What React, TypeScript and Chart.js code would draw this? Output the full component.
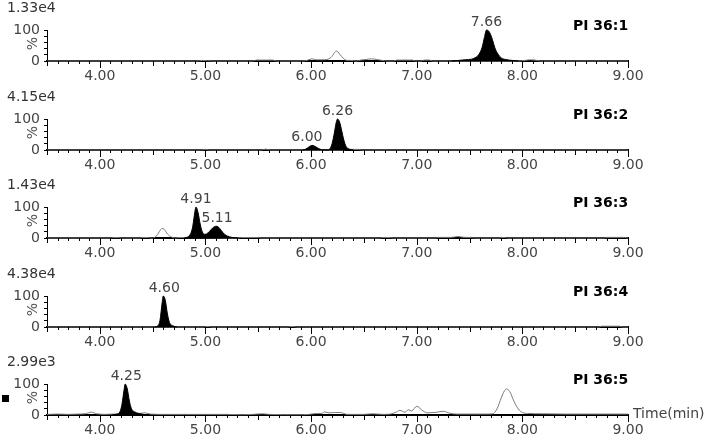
import React, { useEffect, useRef } from 'react';
import { Chart, registerables } from 'chart.js';

Chart.register(...registerables);

type Pt = [number, number];

// ---------- data ----------
const X_MIN = 3.5;
const X_MAX = 9.0;
const majorTimes = [4, 5, 6, 7, 8, 9];
const panelNames = ['PI 36:1', 'PI 36:2', 'PI 36:3', 'PI 36:4', 'PI 36:5'];
const maxIntensityLabels = ['1.33e4', '4.15e4', '1.43e4', '4.38e4', '2.99e3'];

// outline traces (time, % intensity)
const trace1: Pt[] = [
  [3.5, 0], [4.92, 0], [4.97, 2], [5.02, 1], [5.07, 0], [5.45, 0], [5.48, 3], [5.64, 3], [5.67, 0],
  [5.92, 0], [5.97, 3], [6.01, 7], [6.05, 4], [6.1, 4], [6.15, 5], [6.19, 12], [6.24, 32], [6.29, 14],
  [6.34, 2], [6.37, 2], [6.4, 1], [6.43, 0], [6.47, 3], [6.52, 5], [6.57, 7], [6.62, 5], [6.67, 2],
  [6.72, 0], [6.78, 0], [6.81, 3], [6.96, 3], [6.99, 0], [7.04, 0], [7.07, 3], [7.12, 3], [7.15, 0],
  [7.35, 0], [7.95, 0], [8.03, 2], [8.07, 4], [8.12, 3], [8.17, 0], [8.2, 0], [9.0, 0],
];
const trace2: Pt[] = [
  [3.5, 0], [4.95, 0], [5.0, 1.5], [5.05, 0], [5.53, 0], [5.57, 3], [5.61, 0], [6.3, 0],
  [6.34, 2], [6.45, 2], [6.48, 0], [9.0, 0],
];
const trace3: Pt[] = [
  [3.5, 0], [4.1, 0], [4.12, 1.5], [4.18, 1.5], [4.2, 0], [4.38, 0], [4.4, 1.5], [4.46, 1.5], [4.48, 0],
  [4.5, 0], [4.54, 8], [4.57, 24], [4.59, 31], [4.61, 28], [4.64, 13], [4.68, 3], [4.72, 0],
  [4.74, 1.5], [4.8, 1.5], [5.3, 0], [5.33, 1.5], [5.5, 1.5], [5.53, 0], [6.65, 0], [6.68, 1.5],
  [6.75, 1.5], [6.78, 0], [7.18, 0], [7.2, 2], [7.33, 2], [7.39, 5], [7.45, 2], [7.52, 2], [7.54, 0],
  [7.78, 0], [7.8, 1.5], [7.84, 1.5], [7.86, 0], [8.78, 0], [8.8, 2], [8.97, 2], [9.0, 0],
];
const trace4: Pt[] = [
  [3.5, 0], [4.98, 0], [5.0, 1.5], [5.04, 1.5], [5.06, 0], [5.78, 0], [5.8, 1.5], [5.84, 1.5],
  [5.86, 0], [8.72, 0], [8.75, 2.5], [8.92, 2.5], [8.95, 0], [9.0, 0],
];
const trace5: Pt[] = [
  [3.5, 2], [3.6, 3], [3.7, 2], [3.8, 3], [3.86, 4], [3.92, 9], [3.97, 4], [4.05, 2], [4.12, 3],
  [4.2, 3], [4.35, 4], [4.43, 7], [4.48, 3], [4.6, 2], [4.8, 2], [5.0, 2], [5.2, 2], [5.35, 1],
  [5.45, 2], [5.54, 4], [5.6, 2], [5.88, 1], [5.98, 2], [6.05, 5], [6.1, 5], [6.13, 10], [6.17, 7],
  [6.22, 8], [6.28, 8], [6.34, 2], [6.5, 2], [6.58, 4], [6.68, 2], [6.75, 3], [6.81, 10], [6.84, 15],
  [6.89, 9], [6.92, 17], [6.95, 13], [7.0, 28], [7.06, 13], [7.1, 7], [7.19, 9], [7.25, 12],
  [7.31, 6], [7.38, 3], [7.5, 3], [7.65, 3], [7.72, 4], [7.76, 20], [7.8, 55], [7.83, 78],
  [7.85, 84], [7.88, 76], [7.92, 45], [7.96, 20], [8.0, 8], [8.05, 5], [8.2, 4], [8.4, 3],
  [8.6, 3], [8.8, 3], [9.0, 3],
];

// filled (integrated) peaks
const peak1: Pt[] = [
  [7.33, 0], [7.4, 2], [7.46, 4], [7.52, 6], [7.56, 12], [7.59, 22], [7.62, 45], [7.64, 75],
  [7.66, 100], [7.68, 97], [7.7, 85], [7.72, 65], [7.74, 42], [7.77, 22], [7.8, 10], [7.84, 5],
  [7.9, 2], [7.96, 0],
];
const peak2: Pt[] = [
  [5.92, 0], [5.95, 3], [5.98, 10], [6.01, 15], [6.04, 11], [6.07, 5], [6.1, 1], [6.14, 0],
  [6.16, 0], [6.18, 5], [6.2, 22], [6.22, 55], [6.24, 92], [6.25, 100], [6.27, 90], [6.29, 62],
  [6.31, 32], [6.33, 12], [6.36, 3], [6.4, 0],
];
const peak3: Pt[] = [
  [4.8, 0], [4.83, 3], [4.86, 14], [4.88, 38], [4.9, 85], [4.91, 100], [4.93, 82], [4.95, 45],
  [4.97, 20], [4.99, 12], [5.01, 13], [5.04, 22], [5.07, 33], [5.1, 38], [5.12, 36], [5.15, 24],
  [5.18, 12], [5.21, 6], [5.25, 2], [5.3, 0],
];
const peak4: Pt[] = [
  [4.52, 0], [4.55, 4], [4.57, 22], [4.59, 78], [4.6, 100], [4.62, 86], [4.64, 42], [4.66, 14],
  [4.69, 4], [4.73, 0],
];
const peak5: Pt[] = [
  [4.12, 0], [4.16, 3], [4.19, 10], [4.21, 35], [4.23, 82], [4.24, 100], [4.26, 84], [4.28, 45],
  [4.3, 20], [4.33, 10], [4.37, 5], [4.41, 2], [4.44, 0],
];

// peak labels: [time position, peak height %, text]
const labels1: [number, number, string][] = [[7.66, 100, '7.66']];
const labels2: [number, number, string][] = [[5.96, 15, '6.00'], [6.25, 100, '6.26']];
const labels3: [number, number, string][] = [[4.91, 100, '4.91'], [5.11, 38, '5.11']];
const labels4: [number, number, string][] = [[4.61, 100, '4.60']];
const labels5: [number, number, string][] = [[4.25, 100, '4.25']];

const traces = [trace1, trace2, trace3, trace4, trace5];
const peaks = [peak1, peak2, peak3, peak4, peak5];
const peakLabels = [labels1, labels2, labels3, labels4, labels5];

// ---------- layout ----------
const FONT = '"DejaVu Sans", Verdana, sans-serif';
const W = 710;
const PANEL_H = 89;
const panelTops = [0, 89, 177, 266, 354];

function makeOverlay(i: number) {
  return {
    id: 'overlay' + i,
    afterDraw(chart: any) {
      const ctx = chart.ctx as CanvasRenderingContext2D;
      const xs = chart.scales.x;
      const ys = chart.scales.y;
      const area = chart.chartArea;
      const axisY = area.bottom;
      ctx.save();
      // x ticks (minor / half / major)
      ctx.strokeStyle = '#000';
      ctx.lineWidth = 1;
      const n = Math.round((X_MAX - X_MIN) * 10);
      for (let k = 0; k <= n; k++) {
        const v = X_MIN + k / 10;
        const px = Math.round(xs.getPixelForValue(v)) + 0.5;
        const len = k % 10 === 5 ? 7 : k % 5 === 0 ? 5 : 3;
        ctx.beginPath();
        ctx.moveTo(px, axisY);
        ctx.lineTo(px, axisY + len);
        ctx.stroke();
      }
      // max intensity label
      ctx.fillStyle = '#333';
      ctx.font = '14px ' + FONT;
      ctx.textAlign = 'left';
      ctx.textBaseline = 'middle';
      ctx.fillText(maxIntensityLabels[i], 7, 8);
      // panel name
      ctx.fillStyle = '#000';
      ctx.font = 'bold 14px ' + FONT;
      ctx.fillText(panelNames[i], 573, axisY - 35);
      // % axis title
      ctx.fillStyle = '#555';
      ctx.font = '14px ' + FONT;
      ctx.save();
      ctx.translate(33, (area.top + area.bottom) / 2 - 2);
      ctx.rotate(-Math.PI / 2);
      ctx.textAlign = 'center';
      ctx.textBaseline = 'middle';
      ctx.fillText('%', 0, 0);
      ctx.restore();
      // peak labels
      ctx.fillStyle = '#444';
      ctx.font = '14px ' + FONT;
      ctx.textAlign = 'center';
      ctx.textBaseline = 'alphabetic';
      for (const [t, h, txt] of peakLabels[i]) {
        ctx.fillText(txt, xs.getPixelForValue(t), ys.getPixelForValue(h) - 4);
      }
      if (i === 4) {
        ctx.fillStyle = '#000';
        ctx.fillRect(2, 41, 7, 7);
        ctx.fillStyle = '#444';
        ctx.textAlign = 'left';
        ctx.textBaseline = 'middle';
        ctx.font = '14px ' + FONT;
        ctx.fillText('Time(min)', 633, axisY - 1);
      }
      ctx.restore();
    },
  };
}

function Panel({ index }: { index: number }) {
  const ref = useRef<HTMLCanvasElement | null>(null);
  useEffect(() => {
    const canvas = ref.current;
    if (!canvas) return;
    const chart = new Chart(canvas, {
      type: 'line',
      data: {
        datasets: [
          {
            data: peaks[index].map(([x, y]) => ({ x, y })),
            borderColor: '#000',
            backgroundColor: '#000',
            borderWidth: 1,
            fill: 'origin',
            pointRadius: 0,
            cubicInterpolationMode: 'monotone',
            clip: 4,
          } as any,
          {
            data: traces[index].map(([x, y]) => ({ x, y })),
            borderColor: '#7a7a7a',
            backgroundColor: 'rgba(0,0,0,0)',
            borderWidth: 1,
            fill: false,
            pointRadius: 0,
            cubicInterpolationMode: 'monotone',
            clip: 4,
          } as any,
        ],
      },
      options: {
        responsive: false,
        animation: false,
        devicePixelRatio: 1,
        events: [],
        layout: { padding: { top: 30, right: 82, bottom: 0, left: 0 } },
        plugins: {
          legend: { display: false },
          tooltip: { enabled: false },
          title: { display: false },
        },
        scales: {
          x: {
            type: 'linear',
            min: X_MIN,
            max: X_MAX,
            afterFit: (s: any) => {
              s.height = 28;
            },
            border: { display: true, color: '#000', width: 2 },
            grid: {
              display: true,
              drawOnChartArea: false,
              drawTicks: true,
              tickLength: 5,
              color: 'rgba(0,0,0,0)',
            },
            ticks: {
              stepSize: 0.5,
              autoSkip: false,
              maxRotation: 0,
              minRotation: 0,
              padding: 2,
              color: '#444',
              font: { family: FONT, size: 14 },
              callback: (v: any) =>
                majorTimes.some((m) => Math.abs(m - Number(v)) < 1e-6) ? Number(v).toFixed(2) : '',
            },
          },
          y: {
            type: 'linear',
            min: 0,
            max: 100,
            afterFit: (s: any) => {
              s.width = 47;
            },
            border: { display: true, color: '#000', width: 1 },
            grid: { drawOnChartArea: false, drawTicks: true, tickLength: 3, color: '#000' },
            ticks: {
              stepSize: 20,
              autoSkip: false,
              padding: 4,
              color: '#444',
              font: { family: FONT, size: 14 },
              callback: (v: any) => (Number(v) === 0 || Number(v) === 100 ? String(v) : ''),
            },
          },
        },
      } as any,
      plugins: [makeOverlay(index)],
    });
    return () => chart.destroy();
  }, [index]);
  return (
    <canvas
      ref={ref}
      width={W}
      height={PANEL_H}
      style={{ position: 'absolute', left: 0, top: panelTops[index], width: W, height: PANEL_H }}
    />
  );
}

export default function App() {
  return (
    <div
      style={{
        position: 'absolute',
        left: 0,
        top: 0,
        width: W,
        height: 437,
        overflow: 'hidden',
        background: '#fff',
      }}
    >
      {[0, 1, 2, 3, 4].map((i) => (
        <Panel key={i} index={i} />
      ))}
    </div>
  );
}
